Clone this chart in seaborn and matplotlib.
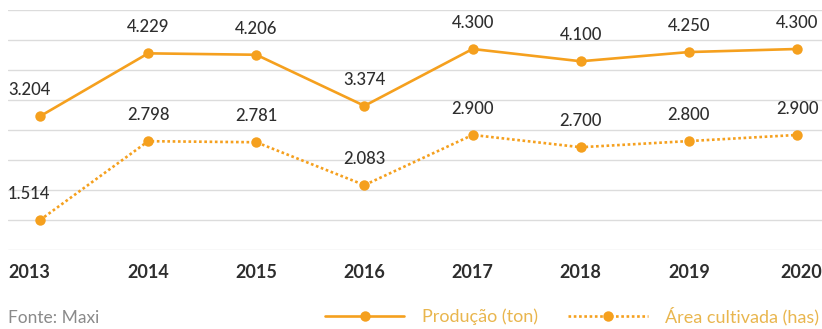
import matplotlib
matplotlib.use("Agg")
import matplotlib.pyplot as plt
import matplotlib.transforms as mtransforms
import seaborn as sns
import numpy as np
import pandas as pd
from matplotlib.lines import Line2D

years = [2013, 2014, 2015, 2016, 2017, 2018, 2019, 2020]
producao = [3.204, 4.229, 4.206, 3.374, 4.300, 4.100, 4.250, 4.300]
area = [1.514, 2.798, 2.781, 2.083, 2.900, 2.700, 2.800, 2.900]
year_labels = [str(y) for y in years]
series_names = ["Produção (ton)", "Área cultivada (has)"]
source = "Fonte: Maxi"

ORANGE = "#F5A01E"
LEGEND_TXT = "#E9B64E"
DARK = "#2e2e2e"

sns.set_theme(style="white")
plt.rcParams["font.family"] = ["Lato", "DejaVu Sans"]

fig = plt.figure(figsize=(8.22, 3.29), dpi=100)
ax = fig.add_axes([8 / 822, 79 / 329, 814 / 822, 240 / 329])

df_p = pd.DataFrame({"year": years, "value": producao})
df_a = pd.DataFrame({"year": years, "value": area})

sns.lineplot(data=df_p, x="year", y="value", ax=ax, color=ORANGE, linewidth=1.9,
             marker="o", markersize=7.5, markeredgewidth=0, zorder=3)
sns.lineplot(data=df_a, x="year", y="value", ax=ax, color=ORANGE, linewidth=1.9,
             linestyle=(0, (1, 1)), marker="o", markersize=7.5, markeredgewidth=0, zorder=3)

ymin, ymax = 1.026, 4.935
ax.set_ylim(ymin, ymax)
ax.set_xlim(2012.704, 2020.231)
ax.set_yticks(np.linspace(ymin, ymax, 9))
ax.set_yticklabels([])
ax.yaxis.grid(True, color="#dcdcdc", linewidth=1.0)
ax.xaxis.grid(False)
for s in ax.spines.values():
    s.set_visible(False)
ax.set_xticks(years)
ax.set_xticklabels(year_labels, fontsize=13, fontweight="bold", color=DARK)
ax.tick_params(axis="x", length=0, pad=10)
ax.tick_params(axis="y", length=0)
ax.set_xlabel("")
ax.set_ylabel("")

tl = ax.get_xticklabels()
tl[0].set_ha("left")
tl[0].set_transform(tl[0].get_transform() +
                    mtransforms.ScaledTranslation(-32 / 100, 0, fig.dpi_scale_trans))
tl[-1].set_ha("right")
tl[-1].set_transform(tl[-1].get_transform() +
                     mtransforms.ScaledTranslation(25 / 100, 0, fig.dpi_scale_trans))

def fmt(v):
    return f"{v:.3f}"

for series in (producao, area):
    for i, (x, v) in enumerate(zip(years, series)):
        ha = "center"
        dx = 0
        if i == 0:
            ha = "left"
            dx = -32
        ax.annotate(fmt(v), (x, v), xytext=(dx * 0.72, 13), textcoords="offset points",
                    ha=ha, va="bottom", fontsize=12, color=DARK, fontweight="medium")

fig.text(8 / 822, 1 - 318 / 329, source, fontsize=12.5, color="#8a8a8a",
         ha="left", va="center")

handles = [
    Line2D([], [], color=ORANGE, linewidth=1.9, marker="o", markersize=7.5,
           markeredgewidth=0),
    Line2D([], [], color=ORANGE, linewidth=1.9, linestyle=(0, (1, 1)), marker="o",
           markersize=7.5, markeredgewidth=0),
]
leg = fig.legend(handles, series_names, loc="center right", bbox_to_anchor=(1.005, 1 - 316 / 329),
                 ncol=2, frameon=False, fontsize=13, handlelength=4.4, numpoints=1,
                 columnspacing=1.7, handletextpad=0.95, borderaxespad=0)
for t in leg.get_texts():
    t.set_color(LEGEND_TXT)

fig.savefig("out.png", dpi=100)
